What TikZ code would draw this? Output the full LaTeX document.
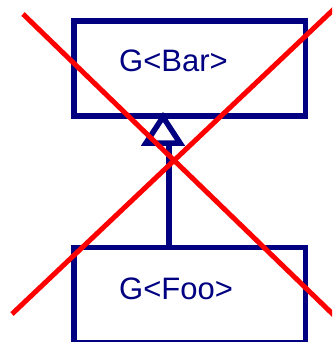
\documentclass[tikz,border=0pt]{standalone}
\usepackage{fontspec}
\setmainfont{Liberation Sans}
\definecolor{umlnavy}{RGB}{0,0,128}
\definecolor{crossred}{RGB}{255,0,0}
\begin{document}
\begin{tikzpicture}[x=1pt,y=-1pt,
  classbox/.style={draw=umlnavy,line width=5.5pt,minimum width=231.5pt,minimum height=95pt,inner sep=0pt},
  classlabel/.style={text=umlnavy,font=\fontsize{31}{31}\selectfont,anchor=base west,inner sep=0pt},
  umlline/.style={draw=umlnavy,line width=5.5pt},
  crossline/.style={draw=crossred,line width=5pt}]
\useasboundingbox (0,0) rectangle (332,342);
\clip (0,0) rectangle (332,342);
\node[classbox] (bar) at (189.75,68.5) {};
\node[classbox] (foo) at (189.75,295) {};
\node[classlabel] (barlabel) at (119,72) {G<Bar>};
\node[classlabel] (foolabel) at (119,299) {G<Foo>};
% inheritance arrow
\coordinate (tipA) at (163,117);
\coordinate (tipL) at (146,143);
\coordinate (tipR) at (180,143);
\coordinate (stemtop) at (169,143);
\draw[umlline,line join=miter] (tipA) -- (tipL) -- (tipR) -- cycle;
\draw[umlline] (foo.north -| stemtop) -- (stemtop);
% red cross
\coordinate (c1a) at (23,14);
\coordinate (c1b) at (345,326);
\coordinate (c2a) at (12,314);
\coordinate (c2b) at (345,-1.4);
\draw[crossline] (c1a) -- (c1b);
\draw[crossline] (c2a) -- (c2b);
\end{tikzpicture}
\end{document}
